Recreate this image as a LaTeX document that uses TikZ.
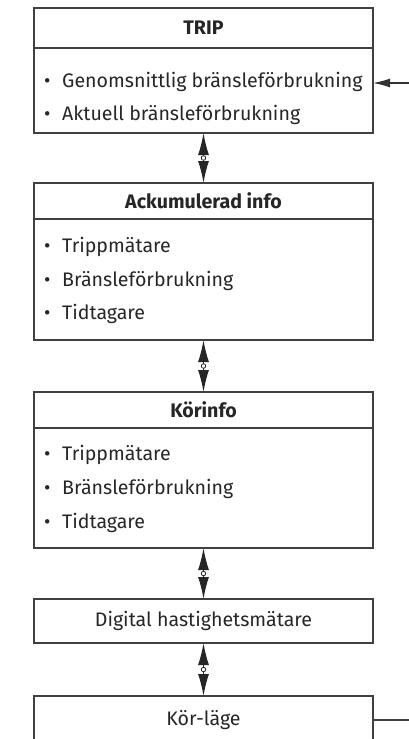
\documentclass[tikz,border=0pt]{standalone}
\usepackage{fontspec}
\setmainfont{Fira Sans}
\usetikzlibrary{arrows.meta, positioning}

\begin{document}
\begin{tikzpicture}[
    x=1pt, y=-1pt,
    box/.style={rectangle, draw=black!75, line width=1.3pt, minimum width=339pt, inner sep=0pt, outer sep=0pt, text=black!85, font=\fontsize{19.6}{23}\selectfont},
    head/.style={box, font=\fontsize{19.6}{23}\selectfont\bfseries},
    item/.style={anchor=base west, inner sep=0pt, text=black!85, font=\fontsize{19.6}{23}\selectfont},
    link/.style={{Latex[length=22pt,width=11pt]}-{Latex[length=22pt,width=11pt]}, line width=1.2pt, color=black!85},
    hole/.style={circle, draw=black!85, fill=white, line width=0.8pt, inner sep=0pt, minimum size=4.5pt},
    arrow/.style={-{Latex[length=17pt,width=9pt]}, line width=1.3pt, color=black!80},
]
\useasboundingbox (0,0) rectangle (409,739);
\clip (0,0) rectangle (409,739);
\fill[white] (0,0) rectangle (409,739);

% TRIP
\node[head, minimum height=40pt] (trip) at (203.5, 28) {TRIP};
\node[box, minimum height=85pt] (tripbody) at (203.5, 90.5) {};
\node[item] (trip1) at (44, 87) {\makebox[18pt][l]{\textbullet}Genomsnittlig bränsleförbrukning};
\node[item] (trip2) at (44, 120) {\makebox[18pt][l]{\textbullet}Aktuell bränsleförbrukning};

% Ackumulerad info
\node[head, minimum height=36pt] (ack) at (203.5, 201) {Ackumulerad info};
\node[box, minimum height=121pt] (ackbody) at (203.5, 279.5) {};
\node[item] (ack1) at (44, 252) {\makebox[18pt][l]{\textbullet}Trippmätare};
\node[item] (ack2) at (44, 286) {\makebox[18pt][l]{\textbullet}Bränsleförbrukning};
\node[item] (ack3) at (44, 319) {\makebox[18pt][l]{\textbullet}Tidtagare};

% Korinfo
\node[head, minimum height=36pt] (kor) at (203.5, 410) {Körinfo};
\node[box, minimum height=120pt] (korbody) at (203.5, 488) {};
\node[item] (kor1) at (44, 460) {\makebox[18pt][l]{\textbullet}Trippmätare};
\node[item] (kor2) at (44, 494) {\makebox[18pt][l]{\textbullet}Bränsleförbrukning};
\node[item] (kor3) at (44, 528) {\makebox[18pt][l]{\textbullet}Tidtagare};

% Digital / Kor-lage
\node[box, minimum height=44pt] (digital) at (203.5, 621) {Digital hastighetsmätare};
\node[box, minimum height=48pt, anchor=north] (lage) at (203.5, 696) {Kör-läge};

\draw[link] (tripbody.south) -- node[hole] (h1) {} (ack.north);
\draw[link] (ackbody.south) -- node[hole] (h2) {} (kor.north);
\draw[link] (korbody.south) -- node[hole] (h3) {} (digital.north);
\draw[link] (digital.south) -- node[hole] (h4) {} (lage.north);

% feedback line, cut off at the right edge
\coordinate (outR) at (412, 720);
\coordinate (inR) at (412, 83);
\draw[line width=1.3pt, black!75] (lage.east |- outR) -- (outR);
\draw[arrow] (inR) -- (inR -| tripbody.east);

\end{tikzpicture}
\end{document}
